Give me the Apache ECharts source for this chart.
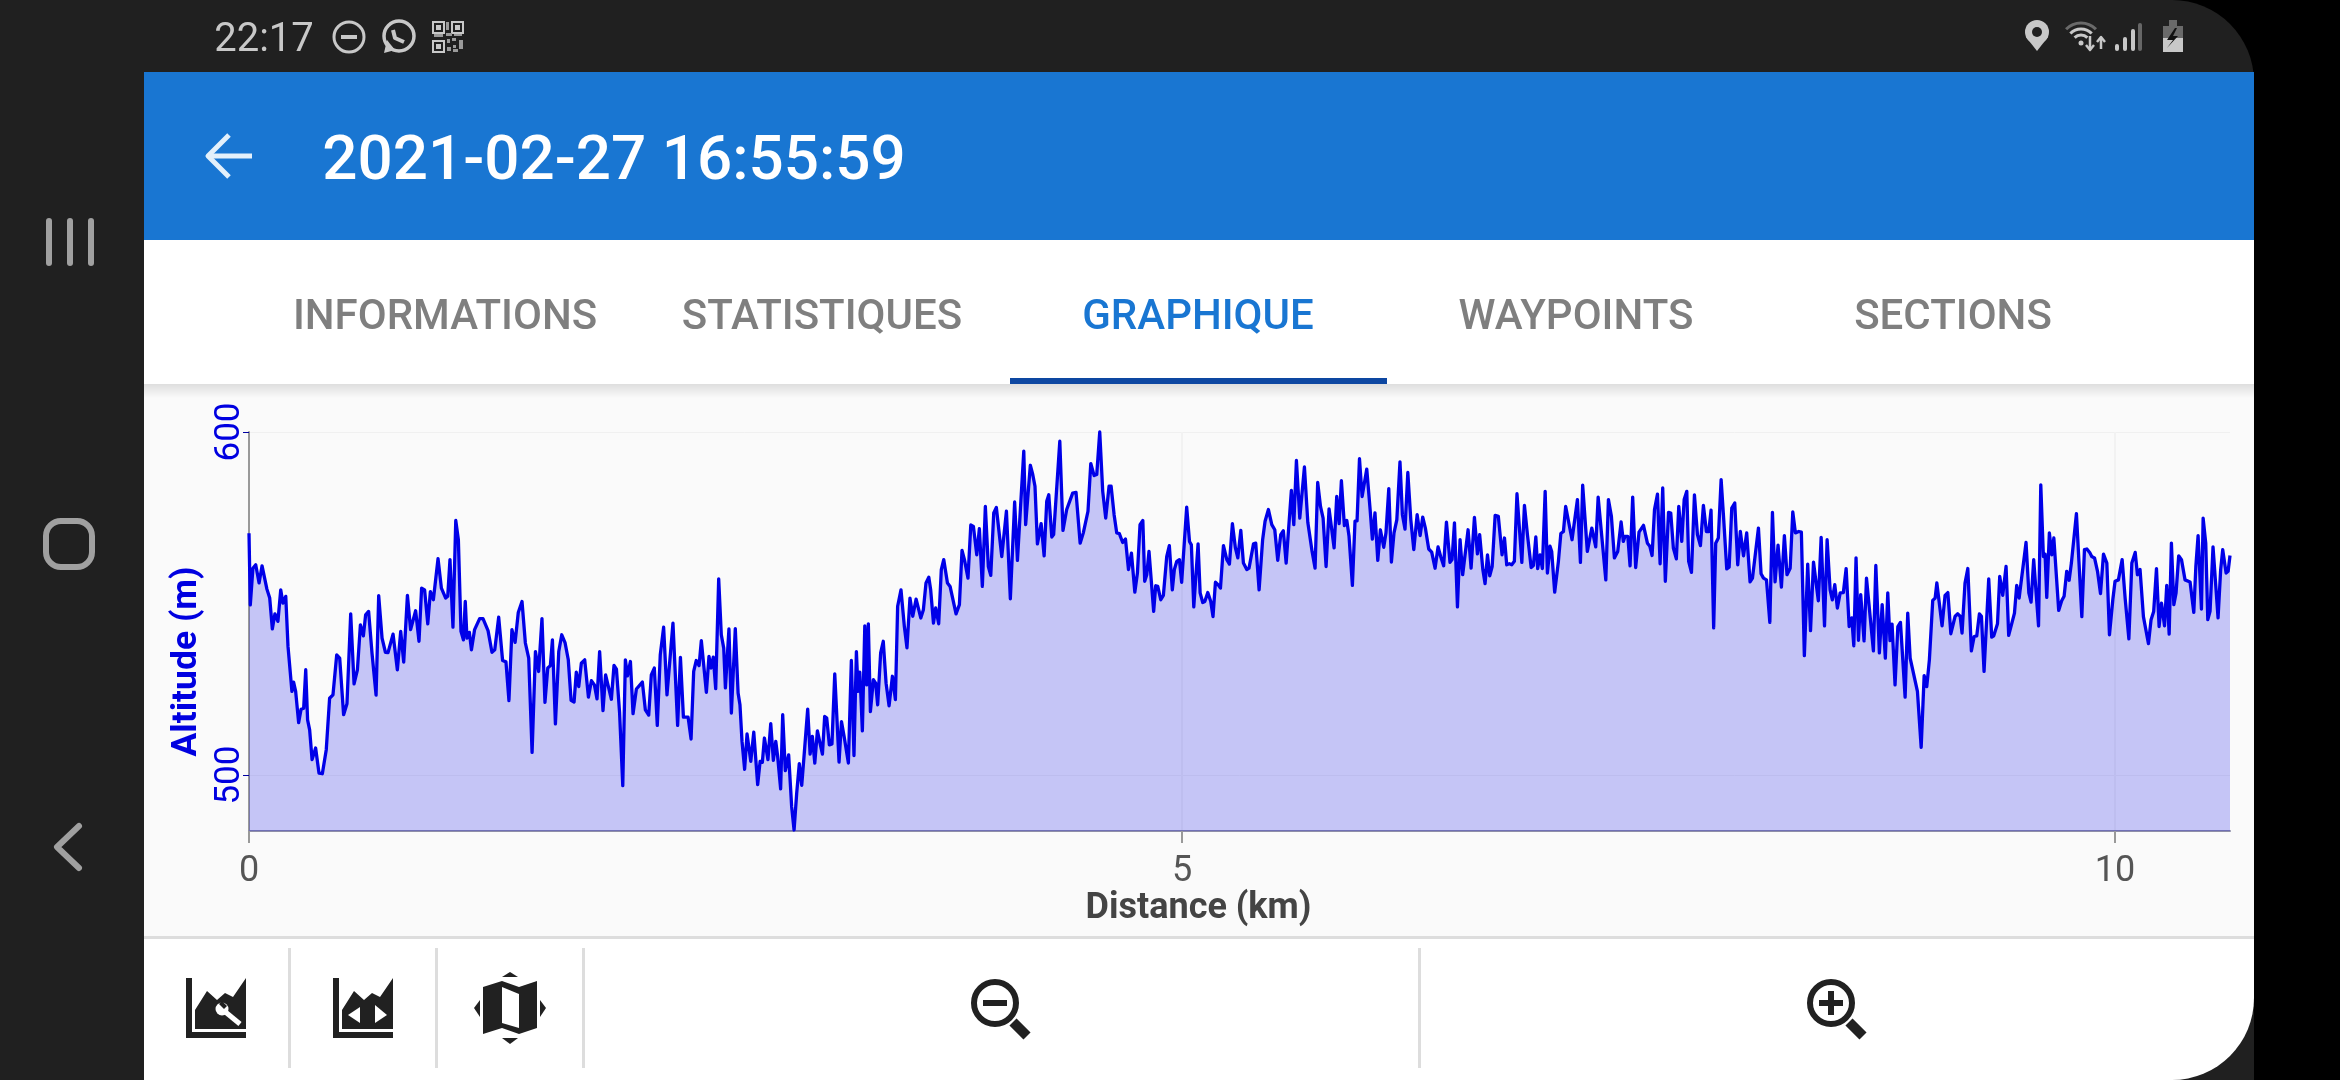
<!DOCTYPE html>
<html>
<head>
<meta charset="utf-8">
<style>html,body{margin:0;padding:0;background:#000}#c{width:2340px;height:1080px}</style>
<script src="https://cdn.jsdelivr.net/npm/echarts@6/dist/echarts.min.js"></script>
</head>
<body>
<div id="c"></div>
<script>
const titleText = '2021-02-27 16:55:59';
const clockText = '22:17';
const tabLabels = ['INFORMATIONS', 'STATISTIQUES', 'GRAPHIQUE', 'WAYPOINTS', 'SECTIONS'];
const xAxisTitle = 'Distance (km)';
const yAxisTitle = 'Altitude (m)';
const xTicks = [0, 5, 10];
const yTicks = [500, 600];

const distanceKm = [
0,.007,.021,.036,.054,.070,.080,.096,.111,.125,.139,.155,.170,.182,.197,.209,.230,.239,.250,.266,.279,.293,.304,.314,.325,.338,.357,.375,.393,.414,.432,.450,.470,.486,.507,.525,.545,.563,.581,.597,.613,.625,.641,.659,.681,.695,.713,.731,.745,.772,.795,.813,.829,.849,.866,.893,.911,.925,.941,.958,.972,.988,
1.013,1.031,1.054,1.065,1.077,1.093,1.108,1.122,1.136,1.149,1.159,1.168,1.181,1.192,1.209,1.236,1.254,1.281,1.302,1.317,1.338,1.359,1.377,1.393,1.409,1.426,1.443,1.463,1.481,1.499,1.517,1.535,1.552,1.570,1.586,1.601,1.615,1.626,1.642,1.660,1.676,1.694,1.711,1.726,1.742,1.754,1.767,1.781,1.799,1.819,1.835,1.851,1.865,1.879,1.897,1.911,1.942,1.956,1.969,1.986,
2.003,2.017,2.028,2.044,2.058,2.076,2.108,2.124,2.142,2.156,2.172,2.188,2.204,2.222,2.240,2.272,2.297,2.312,2.328,2.353,2.369,2.383,2.397,2.412,2.424,2.451,2.465,2.476,2.488,2.501,2.517,2.531,2.544,2.553,2.572,2.585,2.594,2.606,2.621,2.631,2.642,2.656,2.669,
2.689,2.705,2.726,2.739,2.751,2.762,2.781,2.796,2.810,2.823,2.833,2.849,2.860,2.874,2.892,2.908,2.921,2.935,2.949,2.962,2.974,2.983,2.994,
3.007,3.019,3.032,3.046,3.060,3.073,3.085,3.096,3.110,3.124,3.139,3.162,3.175,3.189,3.212,3.228,3.242,3.255,3.264,3.273,3.278,3.287,3.300,3.310,3.319,3.330,3.346,3.358,3.369,3.385,3.399,3.414,3.430,3.448,3.464,3.476,3.494,3.512,3.526,3.542,3.557,3.575,3.585,3.600,3.614,3.628,3.643,3.653,3.668,3.680,3.696,3.710,3.723,3.743,3.757,3.789,3.807,3.821,3.834,3.853,3.868,3.882,3.900,3.914,3.930,3.946,3.962,3.975,3.991,
4.005,4.034,4.044,4.059,4.080,4.103,4.118,4.152,4.162,4.187,4.200,4.212,4.225,4.245,4.261,4.275,4.286,4.302,4.312,4.345,4.362,4.382,4.414,4.432,4.454,4.471,4.496,4.511,4.529,4.543,4.559,4.575,4.591,4.609,4.620,4.636,4.650,4.664,4.682,4.697,4.713,4.729,4.747,4.761,4.775,4.790,4.800,4.811,4.823,4.848,4.859,4.870,4.886,4.900,4.918,4.932,4.948,4.959,4.972,4.986,4.998,
5.025,5.040,5.050,5.063,5.086,5.097,5.111,5.122,5.138,5.154,5.166,5.179,5.193,5.206,5.222,5.240,5.254,5.270,5.286,5.299,5.315,5.329,5.347,5.359,5.383,5.395,5.413,5.432,5.445,5.463,5.481,5.497,5.513,5.529,5.543,5.558,5.586,5.599,5.613,5.631,5.656,5.674,5.684,5.697,5.713,5.727,5.742,5.756,5.772,5.788,5.815,5.829,5.842,5.854,5.870,5.883,5.895,5.913,5.927,5.938,5.951,5.965,5.990,
6.008,6.020,6.034,6.049,6.063,6.081,6.093,6.108,6.122,6.136,6.151,6.168,6.181,6.195,6.210,6.226,6.242,6.260,6.276,6.290,6.304,6.322,6.338,6.356,6.372,6.386,6.402,6.417,6.436,6.447,6.460,6.476,6.490,6.504,6.533,6.549,6.567,6.583,6.595,6.612,6.624,6.637,6.649,6.662,6.678,6.695,6.715,6.728,6.740,6.754,6.767,6.781,6.795,6.821,6.835,6.851,6.871,6.883,6.896,6.906,6.919,6.931,6.946,6.958,6.972,6.981,6.997,
7.017,7.030,7.044,7.056,7.090,7.119,7.135,7.147,7.172,7.196,7.205,7.217,7.230,7.240,7.271,7.285,7.301,7.317,7.335,7.353,7.365,7.374,7.389,7.401,7.415,7.431,7.449,7.473,7.482,7.494,7.507,7.519,7.532,7.548,7.562,7.576,7.590,7.607,7.619,7.633,7.649,7.662,7.678,7.691,7.705,7.715,7.730,7.746,7.762,7.778,7.794,7.810,7.823,7.835,7.849,7.860,7.874,7.889,7.903,7.919,7.932,7.946,7.962,7.978,7.992,
8.009,8.026,8.044,8.057,8.089,8.103,8.116,8.132,8.150,8.164,8.178,8.194,8.212,8.228,8.242,8.259,8.273,8.287,8.305,8.319,8.335,8.353,8.368,8.384,8.410,8.425,8.443,8.457,8.473,8.485,8.498,8.512,8.527,8.544,8.559,8.575,8.589,8.600,8.612,8.625,8.637,8.655,8.668,8.705,8.718,8.737,8.752,8.769,8.782,8.794,8.805,8.821,8.836,8.850,8.875,8.889,8.902,8.912,8.941,8.961,8.977,8.991,
9.005,9.023,9.036,9.045,9.055,9.073,9.089,9.104,9.120,9.143,9.157,9.170,9.180,9.196,9.211,9.230,9.245,9.259,9.273,9.284,9.298,9.323,9.339,9.350,9.370,9.382,9.398,9.416,9.430,9.461,9.473,9.486,9.523,9.538,9.550,9.564,9.590,9.602,9.616,9.625,9.634,9.648,9.661,9.672,9.698,9.714,9.727,9.741,9.754,9.766,9.793,9.822,9.836,9.849,9.866,9.875,9.890,9.906,9.922,9.938,9.956,9.970,9.988,
10.000,10.018,10.038,10.054,10.074,10.090,10.108,10.120,10.134,10.152,10.179,10.193,10.207,10.222,10.236,10.249,10.265,10.277,10.290,10.302,10.315,10.327,10.341,10.356,10.375,10.402,10.422,10.433,10.445,10.463,10.472,10.486,10.497,10.509,10.525,10.552,10.566,10.577,10.595,10.606,10.616
];

const altitudeM = [
570.5,549.6,560.3,561.3,556,561,560.8,554.2,551.6,542.6,547,544.8,554,550.1,552.1,537.5,524.4,527.1,524.4,515.3,519.2,519.5,530.7,516.1,513.2,504.5,507.9,500.6,500.4,507.4,522.4,523.4,535,534.1,517.6,520.8,547,526.6,530.7,543.8,540.6,546.7,547.7,535.6,523.3,552.3,539.9,535.8,535.7,541.1,530.7,541.9,532.9,552.4,542.4,547.9,539,554.5,554,544.1,553.5,551.1,
563.1,554.5,551.6,552.1,562.8,543.1,574.2,568.6,541.9,539.4,550.6,539.9,541.6,536.5,542.4,545.6,545.6,542.1,535.8,536.5,546,533.4,533,521.7,542.4,538.7,547.4,550.6,538.5,534.1,506.6,536,530.2,545.6,521.2,531.2,531.9,539.4,514.9,536,540.9,538.5,533.6,521.8,521.3,530,525.8,532.6,533.6,522.7,527.5,526.3,522.2,536,518.8,529.2,522.1,532,530.9,518.1,
496.9,533.6,528.9,533.1,517.9,525.1,527.1,519,517.5,529.2,531.2,514.5,535.1,543.1,523.4,544.3,514.5,534.3,516.9,516.9,510.5,530.2,533.4,531.9,539.2,524.1,534.6,531.2,534.4,525.2,557.2,540.9,537,525.4,542.6,518.1,517.6,542.7,523.9,520.5,509.8,501.7,512,
504,512.5,497.2,504,503.7,510.8,504.5,515,504.3,509.8,505.4,496,517.6,501.3,505.9,490.8,484,494.7,503.3,497,505.2,505.6,519.2,
506.1,511.3,503.5,512.9,509.3,506.1,517.1,516.6,508.8,509.1,529.5,503.8,515.6,511.3,503.5,533.4,505.7,536,524.4,530,524.4,512.9,543.5,526.3,544.1,518.5,527.8,526.8,520.5,535.6,539,526.8,520.2,528.8,522,549.2,554,543.3,537.1,551.6,546.3,551.3,551.1,545.8,548.2,556,557.7,554,544.3,548.7,544.1,559.9,562.8,556,555,547,549.7,565.5,562.8,557.4,572.9,572.5,564.2,571.8,555,578.3,560.8,558.2,576.4,
578,563.7,563.3,576.9,551.4,579.6,562.6,594.4,573,590.3,587.6,584.2,567.4,573.3,563.9,579.8,581.7,569.4,570.1,597.3,571.3,577.4,582.2,582.4,567.6,570.6,576.9,590.8,587.3,587.6,600,582.7,574.9,584.2,584.2,575.9,570.6,570.4,567.8,568.8,559.9,564.7,553.3,558.9,573,574.2,556.5,558.4,565.2,547.7,555.2,555,551.1,552.4,563.7,566.9,554,559.9,562.3,562.8,556.2,
578.1,568.1,567.1,549,567.4,553.1,550.3,550.6,553.2,550.6,546.2,556.2,555.5,554.5,566.9,562.8,561.5,573.3,566.2,563.3,571.3,561.8,559.9,560.3,567.4,567.6,554,568.6,574,577.4,573,571.5,562.6,570.1,571.2,561.8,583,573,591.7,574.9,589.8,573.7,573.3,565.2,560.3,585.3,578.3,574.9,560.8,577.6,566.2,581.2,573.3,585.8,572.7,574.2,569.6,555.3,574,574.1,592.2,581.2,589.2,
577.4,568.8,576.4,562.6,571.5,566.4,570.6,583.5,562.1,570.6,574.4,591.3,575.9,571.7,588.2,574.4,565.7,575.9,569.8,575.2,572,565.9,565,560.3,566.5,563.7,561,573.7,562,562.8,573.5,549,568.6,558.4,571.5,560.3,575.1,564.5,570.1,559.9,555.8,564.2,558.1,560.8,575.7,575.4,564.2,569.1,561.3,561.6,561.3,562.3,582,562,578.6,570.1,560.5,561.1,569.4,560.2,564.2,560.2,582.7,558.9,566.7,565.2,553.3,
562.3,570.4,571,578.3,568.6,580.3,562,584.5,565.2,572,572.3,566.5,581,581.4,556.9,580.3,575.4,563.3,565.2,573.8,568.1,569.6,569.6,561,581,560.5,570.8,572.8,572.5,567.6,566.7,564,577.4,581.9,561.6,583.7,556.5,576.6,576.4,566.2,563,578.3,568.1,580.3,582.7,562.3,559.1,581.7,570.1,566.9,578.6,571,571,577.2,542.9,567.6,569.1,586.1,574.4,560.1,560.6,577.8,579.3,561.3,571,
563.9,570.6,556.3,557.4,572,558.7,557.4,556.9,544.5,576.6,556.3,567,554.8,569.8,558.4,560.3,576.7,570.6,571,570.8,534.8,561.5,542.1,562.1,550.8,569.3,543.5,568.6,554,551.1,555.5,548.7,553.1,553.2,560.2,543.3,545.8,537.7,563.3,539.3,552.6,539.1,557.4,536.2,561.1,535.6,549.7,534.1,553.1,539.2,544,526.3,543.3,544.5,522.7,547.2,534.1,533.9,524.4,508.1,529,525.8,
533.6,550.9,551.6,556,555.8,543.5,552.4,553.2,541.2,546.3,547,546.3,541.4,556,560.2,536.2,540.4,540.6,547,546.3,530.2,557.2,540.2,540.6,544.1,557.9,552.4,560.8,540.7,547.2,555.3,551.6,567.8,553.1,550.4,562.8,543.5,584.6,563.7,564.4,551.8,570.6,564.2,569.1,548,550.8,552.1,559.4,556.8,561.8,576.2,546.2,565.7,565.9,564.7,563.7,563.3,559.4,552.9,564.4,561.8,540.9,551.1,
556.5,556.9,562.8,551.6,539.7,561.8,564.9,558.4,559.9,546.2,538.3,545.3,547.7,560.2,543.3,550.1,543.5,555.3,541.1,567.6,549.7,553.1,563.9,562.8,556.9,556.3,547.4,560.8,569.8,548.4,574.9,567.6,545.3,547.7,566.5,545.8,559.9,565.7,558.9,559.4,564
];

const seriesData = distanceKm.map((d, i) => [d, altitudeM[i]]);

const Z = -5;
const FONT = 'Roboto, sans-serif';
const rect = (x, y, w, h, fill, r) => ({type:'rect', silent:true, z:Z, shape:{x, y, width:w, height:h, r:r||0}, style:{fill}});
const poly = (pts, fill) => ({type:'polygon', silent:true, z:Z, shape:{points:pts}, style:{fill}});
const lineShape = (pts, stroke, w, cap) => ({type:'polyline', silent:true, z:Z, shape:{points:pts}, style:{stroke, lineWidth:w, fill:null, lineCap:cap||'butt', lineJoin:'round'}});
const circ = (cx, cy, r, fill, stroke, w) => ({type:'circle', silent:true, z:Z, shape:{cx, cy, r}, style:{fill:fill||null, stroke:stroke||null, lineWidth:w||0}});
const arc = (cx, cy, r, stroke, w) => ({type:'arc', silent:true, z:Z, shape:{cx, cy, r, startAngle:-2.36, endAngle:-0.78}, style:{stroke, lineWidth:w, fill:null}});
const txt = (x, y, text, size, weight, fill) => ({type:'text', silent:true, z:Z, x, y, style:{text, fill, font:`${weight} ${size}px ${FONT}`, textAlign:'center', textVerticalAlign:'middle'}});

const ICON = '#212121';
const NAV = '#a0a0a0';
const STAT = '#c8c8c8';

const qr = [];
[[432,21],[451,21],[432,40]].forEach(([x,y]) => {
  qr.push({type:'rect', silent:true, z:Z, shape:{x:x+1,y:y+1,width:11,height:11}, style:{fill:null, stroke:STAT, lineWidth:2}});
  qr.push(rect(x+4, y+4, 5, 5, STAT));
});
[[446,22,3,8],[446,33,6,3],[434,34,9,3],[454,34,8,2],[447,39,3,4],[452,38,4,3],[459,40,4,9],[447,47,4,4],[453,45,3,3],[453,49,5,3]].forEach(q => qr.push(rect(q[0], q[1], q[2], q[3], '#9a9a9a')));

const graphics = [
  rect(0, 0, 2340, 1080, '#000000'),
  rect(0, 0, 2254, 1080, '#202020', [0, 82, 0, 0]),
  rect(144, 72, 2110, 1008, '#ffffff', [0, 0, 82, 0]),
  rect(144, 72, 2110, 168, '#1976d2'),
  rect(144, 384, 2110, 552, '#fafafa'),
  {type:'rect', silent:true, z:Z, shape:{x:144, y:384, width:2110, height:14}, style:{fill:{type:'linear', x:0, y:0, x2:0, y2:1, colorStops:[{offset:0, color:'#dedede'},{offset:1, color:'#fafafa'}]}}},
  rect(144, 936, 2110, 3, '#dddddd'),
  rect(1010, 378, 377, 6, '#0d47a1'),
  // status bar
  txt(264, 41, clockText, 40, 400, STAT),
  circ(349, 37, 15, null, STAT, 3),
  rect(341, 35, 16, 4, STAT),
  circ(399, 36, 15, null, STAT, 3.5),
  poly([[384,53],[387,40],[395,50]], STAT),
  lineShape([[393,30],[395,38],[404,42]], STAT, 4),
  ...qr,
  circ(2037, 32, 12, STAT),
  poly([[2026,37],[2048,37],[2037,51]], STAT),
  circ(2037, 32, 5, '#202020'),
  arc(2081, 44, 21, '#6a6a6a', 3),
  arc(2081, 44, 15, STAT, 3),
  arc(2081, 44, 9, STAT, 3),
  circ(2081, 43, 2.5, STAT),
  lineShape([[2090,36],[2090,49]], STAT, 2.5),
  lineShape([[2086,45],[2090,50],[2094,45]], STAT, 2.5),
  lineShape([[2101,49],[2101,38]], STAT, 2.5),
  lineShape([[2097,42],[2101,37],[2105,42]], STAT, 2.5),
  rect(2115, 44, 4, 7, STAT, 2),
  rect(2123, 37, 4, 14, STAT, 2),
  rect(2131, 29, 4, 22, STAT, 2),
  rect(2138, 23, 4, 28, '#666666', 2),
  rect(2169, 20, 8, 6, '#6a6a6a'),
  rect(2163, 26, 20, 12, '#6a6a6a'),
  rect(2163, 38, 20, 14, STAT),
  poly([[2175,28],[2167,40],[2173,40],[2167,48],[2178,36],[2173,36],[2177,28]], '#111111'),
  // nav bar
  rect(46, 218, 6, 48, NAV, 3),
  rect(67, 218, 6, 48, NAV, 3),
  rect(88, 218, 6, 48, NAV, 3),
  {type:'rect', silent:true, z:Z, shape:{x:46, y:521, width:46, height:46, r:15}, style:{fill:null, stroke:NAV, lineWidth:6}},
  lineShape([[79,826],[57,847],[79,868]], NAV, 6, 'round'),
  // app bar
  lineShape([[252,156],[208,156]], '#e3f0fb', 5),
  lineShape([[229,135],[208,156],[229,177]], '#e3f0fb', 5),
  txt(614, 163, titleText, 62, 500, '#ffffff'),
  // tabs
  txt(445, 318, tabLabels[0], 42, 500, '#7f7f7f'),
  txt(822, 318, tabLabels[1], 42, 500, '#7f7f7f'),
  txt(1198, 318, tabLabels[2], 42, 500, '#1976d2'),
  txt(1576, 318, tabLabels[3], 42, 500, '#7f7f7f'),
  txt(1953, 318, tabLabels[4], 42, 500, '#7f7f7f'),
  // toolbar separators
  rect(288, 948, 3, 120, '#dddddd'),
  rect(435, 948, 3, 120, '#dddddd'),
  rect(582, 948, 3, 120, '#dddddd'),
  rect(1418, 948, 3, 120, '#dddddd'),
  // icon 1
  rect(186, 978, 6, 60, ICON),
  rect(186, 1032, 60, 6, ICON),
  poly([[195,1029],[195,1010],[207,991],[217,1000],[225,993],[233,997],[246,978],[246,1029]], ICON),
  circ(222, 1009, 6.5, '#ffffff'),
  lineShape([[223,1010],[240,1024]], '#ffffff', 5),
  poly([[222,1001],[227,1006],[224,1009],[219,1004]], ICON),
  // icon 2
  rect(333, 978, 6, 60, ICON),
  rect(333, 1032, 60, 6, ICON),
  poly([[342,1029],[342,1010],[354,991],[364,1000],[372,993],[380,997],[393,978],[393,1029]], ICON),
  poly([[360,1007],[348,1015],[360,1023]], '#ffffff'),
  poly([[375,1005],[387,1015],[375,1023]], '#ffffff'),
  // icon 3
  poly([[483,987],[502,981],[519,987],[537,981],[537,1028],[519,1034],[502,1028],[483,1034]], ICON),
  poly([[502,987],[519,994],[519,1028],[502,1023]], '#ffffff'),
  poly([[502,977],[510,972],[518,977]], ICON),
  poly([[502,1038],[510,1044],[518,1038]], ICON),
  poly([[480,1000],[474,1008],[480,1017]], ICON),
  poly([[540,1000],[546,1008],[540,1017]], ICON),
  // zoom out
  circ(995, 1003, 21, null, ICON, 6),
  rect(983, 1000, 24, 6, ICON),
  lineShape([[1013,1022],[1027,1036]], ICON, 10),
  // zoom in
  circ(1831, 1003, 21, null, ICON, 6),
  rect(1819, 1000, 24, 6, ICON),
  rect(1828, 991, 6, 24, ICON),
  lineShape([[1849,1022],[1863,1036]], ICON, 10)
];

const chart = echarts.init(document.getElementById('c'), null, {renderer:'canvas', width:2340, height:1080});
chart.setOption({
  animation: false,
  backgroundColor: '#000000',
  grid: {left:249, right:110, top:432, bottom:249, containLabel:false},
  graphic: {elements: graphics},
  xAxis: {
    type: 'value',
    min: 0,
    max: 10.616,
    name: xAxisTitle,
    nameLocation: 'middle',
    nameGap: 58,
    nameTextStyle: {fontFamily:'Roboto', fontWeight:700, fontSize:36, color:'#444444', padding:[0,82,0,0]},
    axisLine: {show:true, lineStyle:{color:'#8f8fa8', width:2}},
    axisTick: {show:true, length:12, lineStyle:{color:'#999999', width:2}, customValues:xTicks},
    axisLabel: {show:true, fontFamily:'Roboto', fontSize:36, color:'#555555', margin:23, customValues:xTicks},
    splitLine: {show:true, lineStyle:{color:'#f2f2f2', width:2}}
  },
  yAxis: {
    type: 'value',
    min: 483.7,
    max: 600,
    name: yAxisTitle,
    nameLocation: 'middle',
    nameRotate: 90,
    nameGap: 37,
    nameTextStyle: {fontFamily:'Roboto', fontWeight:700, fontSize:35.5, color:'#0000e0', padding:[0,60,0,0]},
    axisLine: {show:true, lineStyle:{color:'#999999', width:2}},
    axisTick: {show:true, length:6, lineStyle:{color:'#0000a0', width:1}, customValues:yTicks},
    axisLabel: {show:true, rotate:90, fontFamily:'Roboto', fontSize:35, color:'#0000e0', margin:1, customValues:yTicks},
    splitLine: {show:true, lineStyle:{color:'#f0f0f0', width:1}}
  },
  series: [{
    type: 'line',
    data: seriesData,
    smooth: false,
    showSymbol: false,
    sampling: 'none',
    clip: false,
    lineStyle: {color:'#0000e8', width:3.3, join:'round'},
    itemStyle: {color:'#0000e8'},
    areaStyle: {color:'rgba(0,0,230,0.21)', origin:'start', opacity:1},
    z: 2
  }]
});
</script>
</body>
</html>
